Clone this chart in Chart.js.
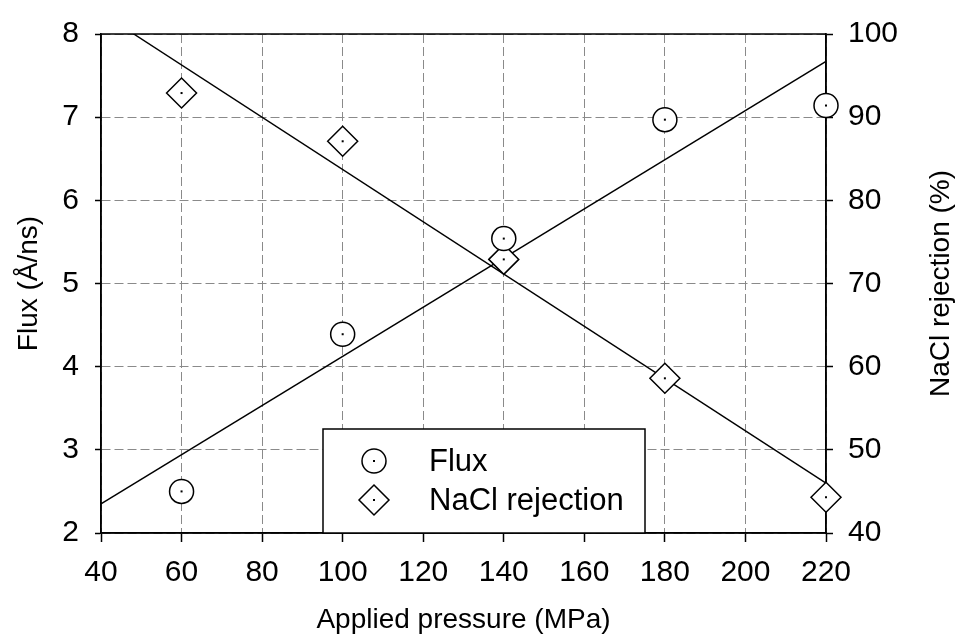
<!DOCTYPE html>
<html>
<head>
<meta charset="utf-8">
<script src="https://cdn.jsdelivr.net/npm/chart.js@4.4.1/dist/chart.umd.min.js"></script>
<style>
  html, body { margin: 0; padding: 0; background: #fff; }
  #wrap { width: 958px; height: 641px; }
</style>
</head>
<body>
<div id="wrap"><canvas id="chart"></canvas></div>
<script>
// --- data ---
const pressure = [60, 100, 140, 180, 220];          // MPa
const flux = [2.5, 4.39, 5.54, 6.97, 7.14];         // Å/ns
const rejection = [92.9, 87.1, 72.9, 58.6, 44.3];   // %

// fitted trend lines (end points)
const fitX = [40, 220];
const fluxFit = [2.35, 7.67];
const rejectionFit = [102.56, 46.0];

// axis ticks
const xTicks = [40, 60, 80, 100, 120, 140, 160, 180, 200, 220];
const fluxTicks = [2, 3, 4, 5, 6, 7, 8];
const rejectionTicks = [40, 50, 60, 70, 80, 90, 100];

const FONT = "'Liberation Sans', Arial, sans-serif";
const gridGrey = '#8a8a8a';

const toPoints = (xs, ys) => xs.map((x, i) => ({ x: x, y: ys[i] }));
const setTicks = values => scale => { scale.ticks = values.map(v => ({ value: v })); };

// frame around the plot area
const framePlugin = {
    id: 'frame',
    beforeDatasetsDraw(chart) {
        const { ctx, chartArea: a } = chart;
        ctx.save();
        ctx.strokeStyle = '#000';
        ctx.lineWidth = 1.5;
        ctx.strokeRect(a.left, a.top, a.right - a.left, a.bottom - a.top);
        ctx.restore();
    }
};

// small dot in the middle of every marker
const centreDots = {
    id: 'centreDots',
    afterDatasetsDraw(chart) {
        const ctx = chart.ctx;
        ctx.save();
        ctx.fillStyle = '#000';
        chart.data.datasets.forEach((ds, i) => {
            if (!ds.marker) return;
            chart.getDatasetMeta(i).data.forEach(pt => {
                ctx.fillRect(pt.x - 1, pt.y - 1, 2, 2);
            });
        });
        ctx.restore();
    }
};

function drawMarker(ctx, style, x, y) {
    ctx.beginPath();
    if (style === 'circle') {
        ctx.arc(x, y, 12, 0, Math.PI * 2);
    } else {
        ctx.moveTo(x, y - 15);
        ctx.lineTo(x + 15, y);
        ctx.lineTo(x, y + 15);
        ctx.lineTo(x - 15, y);
        ctx.closePath();
    }
    ctx.fillStyle = '#fff';
    ctx.fill();
    ctx.stroke();
    ctx.fillStyle = '#000';
    ctx.fillRect(x - 1, y - 1, 2, 2);
}

// boxed legend inside the plot, plus the right-hand axis title
const boxLegend = {
    id: 'boxLegend',
    afterDraw(chart) {
        const { ctx, chartArea: a } = chart;
        const left = 323, right = 645, top = 429, bottom = a.bottom;
        ctx.save();
        ctx.fillStyle = '#fff';
        ctx.fillRect(left, top, right - left, bottom - top);
        ctx.strokeStyle = '#000';
        ctx.lineWidth = 1.5;
        ctx.strokeRect(left, top, right - left, bottom - top);

        const items = chart.data.datasets.filter(ds => ds.marker);
        items.forEach((ds, i) => {
            const y = 461 + i * 39;
            ctx.lineWidth = 1.5;
            ctx.strokeStyle = '#000';
            drawMarker(ctx, ds.pointStyle, 374, y);
            ctx.fillStyle = '#000';
            ctx.font = '31px ' + FONT;
            ctx.textAlign = 'left';
            ctx.textBaseline = 'middle';
            ctx.fillText(ds.label, 429, y + 1);
        });

        // right axis title, reading bottom to top
        ctx.translate(941, (a.top + a.bottom) / 2);
        ctx.rotate(-Math.PI / 2);
        ctx.font = '28px ' + FONT;
        ctx.textAlign = 'center';
        ctx.textBaseline = 'middle';
        ctx.fillText('NaCl rejection (%)', 0, 0);
        ctx.restore();
    }
};

new Chart(document.getElementById('chart'), {
    type: 'scatter',
    data: {
        datasets: [
            {
                label: 'Flux',
                marker: true,
                data: toPoints(pressure, flux),
                yAxisID: 'y',
                pointStyle: 'circle',
                pointRadius: 12,
                pointBorderWidth: 1.5,
                pointBorderColor: '#000',
                pointBackgroundColor: '#fff',
                showLine: false,
                clip: false,
                order: 1
            },
            {
                label: 'NaCl rejection',
                marker: true,
                data: toPoints(pressure, rejection),
                yAxisID: 'y2',
                pointStyle: 'rectRot',
                pointRadius: 15,
                pointBorderWidth: 1.5,
                pointBorderColor: '#000',
                pointBackgroundColor: '#fff',
                showLine: false,
                clip: false,
                order: 1
            },
            {
                label: 'Flux fit',
                data: toPoints(fitX, fluxFit),
                yAxisID: 'y',
                showLine: true,
                borderColor: '#000',
                borderWidth: 1.4,
                pointRadius: 0,
                order: 2
            },
            {
                label: 'Rejection fit',
                data: toPoints(fitX, rejectionFit),
                yAxisID: 'y2',
                showLine: true,
                borderColor: '#000',
                borderWidth: 1.4,
                pointRadius: 0,
                order: 2
            }
        ]
    },
    options: {
        responsive: true,
        maintainAspectRatio: false,
        animation: false,
        layout: { padding: { top: 28, left: 0, right: 0, bottom: 0 } },
        plugins: {
            legend: { display: false },
            tooltip: { enabled: false }
        },
        scales: {
            x: {
                type: 'linear',
                min: 40,
                max: 220,
                afterBuildTicks: setTicks(xTicks),
                afterFit: scale => { scale.height = 108; },
                grid: { color: gridGrey, lineWidth: 1, tickLength: 9, tickColor: '#000', tickWidth: 1.5, tickBorderDash: [] },
                border: { color: '#000', width: 1.5, dash: [9, 4] },
                ticks: { color: '#000', font: { family: FONT, size: 30 }, padding: 13, maxRotation: 0 },
                title: {
                    display: true,
                    text: 'Applied pressure (MPa)',
                    color: '#000',
                    font: { family: FONT, size: 28 },
                    padding: { top: 0, bottom: 4 }
                }
            },
            y: {
                type: 'linear',
                position: 'left',
                min: 2,
                max: 8,
                afterBuildTicks: setTicks(fluxTicks),
                afterFit: scale => { scale.width = 101; },
                grid: { color: gridGrey, lineWidth: 1, tickLength: 6, tickColor: '#000', tickWidth: 1.5, tickBorderDash: [] },
                border: { color: '#000', width: 1.5, dash: [9, 4] },
                ticks: { color: '#000', font: { family: FONT, size: 30 }, padding: 16 },
                title: {
                    display: true,
                    text: 'Flux (Å/ns)',
                    color: '#000',
                    font: { family: FONT, size: 28 },
                    padding: { top: 12, bottom: 0 }
                }
            },
            y2: {
                type: 'linear',
                position: 'right',
                min: 40,
                max: 100,
                afterBuildTicks: setTicks(rejectionTicks),
                afterFit: scale => { scale.width = 132; },
                grid: { drawOnChartArea: false, tickLength: 7, tickColor: '#000', tickWidth: 1.5 },
                border: { color: '#000', width: 1.5 },
                ticks: { color: '#000', font: { family: FONT, size: 30 }, padding: 15 }
            }
        }
    },
    plugins: [framePlugin, centreDots, boxLegend]
});
</script>
</body>
</html>
